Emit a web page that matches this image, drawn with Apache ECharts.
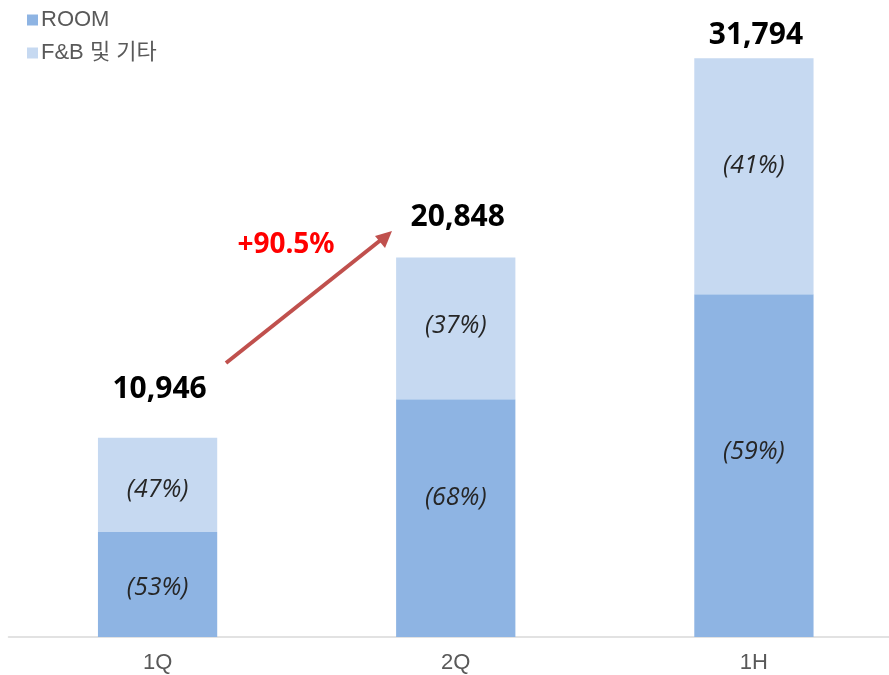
<!DOCTYPE html>
<html>
<head>
<meta charset="utf-8">
<script src="https://cdn.jsdelivr.net/npm/echarts@6/dist/echarts.min.js"></script>
<style>
  html, body { margin: 0; padding: 0; background: #fff; overflow: hidden; }
  /* the plot runs past the right edge in the source, so the canvas is a bit wider than the window */
  #chart { width: 903px; height: 675px; }
</style>
</head>
<body>
<div id="chart"></div>
<script>
var categories = ['1Q', '2Q', '1H']
var roomValues = [5770, 13070, 18830]
var fnbValues = [5176, 7778, 12964]
var totals = [10946, 20848, 31794]
var roomPct = ['(53%)', '(68%)', '(59%)']
var fnbPct = ['(47%)', '(37%)', '(41%)']
var growthLabel = '+90.5%'

// label nudges, the source chart did not center every label
var roomOffsets = [[0, 3], [0, -20], [0, -14]]
var fnbOffsets = [[0, 5], [0, -2], [0, -10]]
var totalDist = [33, 25, 8]

var chart = echarts.init(document.getElementById('chart'))

var pctLabel = {
  show: true,
  position: 'inside',
  fontFamily: 'Open Sans',
  fontStyle: 'italic',
  fontSize: 25,
  color: '#262626'
}

chart.setOption({
  animation: false,
  legend: {
    orient: 'vertical',
    left: 22,
    top: 4,
    itemGap: 11,
    itemWidth: 11,
    itemHeight: 11,
    icon: 'rect',
    textStyle: {
      fontFamily: 'Liberation Sans, Noto Sans CJK KR',
      fontSize: 22,
      color: '#595959',
      padding: [0, 0, 0, -2]
    },
    data: ['ROOM', 'F&B 및 기타']
  },
  grid: {
    left: 8.5,
    right: 0,
    top: 0,
    bottom: 38
  },
  xAxis: {
    type: 'category',
    data: categories,
    axisLine: { lineStyle: { color: '#d9d9d9', width: 1.5 } },
    axisTick: { show: false },
    axisLabel: {
      fontFamily: 'Liberation Sans',
      fontSize: 22,
      color: '#595959',
      margin: 15
    }
  },
  yAxis: {
    type: 'value',
    min: 0,
    max: 35000,
    show: false,
    splitLine: { show: false }
  },
  series: [
    {
      name: 'ROOM',
      type: 'bar',
      stack: 'total',
      barWidth: '40%',
      itemStyle: { color: '#8eb4e3' },
      data: roomValues.map(function (v, i) {
        return { value: v, label: Object.assign({}, pctLabel, { offset: roomOffsets[i] }) }
      }),
      label: Object.assign({}, pctLabel, {
        formatter: function (p) { return roomPct[p.dataIndex] }
      })
    },
    {
      name: 'F&B 및 기타',
      type: 'bar',
      stack: 'total',
      itemStyle: { color: '#c6d9f1' },
      data: fnbValues.map(function (v, i) {
        return { value: v, label: Object.assign({}, pctLabel, { offset: fnbOffsets[i] }) }
      }),
      label: Object.assign({}, pctLabel, {
        formatter: function (p) { return fnbPct[p.dataIndex] }
      })
    },
    {
      // transparent carrier for the total labels
      name: 'total',
      type: 'bar',
      stack: 'total',
      itemStyle: { color: 'transparent' },
      silent: true,
      data: totals.map(function (v, i) {
        return { value: 0, label: { distance: totalDist[i] } }
      }),
      label: {
        show: true,
        position: 'top',
        fontFamily: 'Noto Sans',
        fontWeight: 'bold',
        fontSize: 30,
        color: '#000',
        offset: [2, 0],
        formatter: function (p) { return totals[p.dataIndex].toLocaleString('en-US') }
      }
    }
  ],
  graphic: [
    {
      type: 'line',
      shape: { x1: 226, y1: 363, x2: 382, y2: 239 },
      style: { stroke: '#c0504d', lineWidth: 4 }
    },
    {
      type: 'polygon',
      shape: { points: [[392, 231], [375, 236], [385, 248]] },
      style: { fill: '#c0504d' }
    },
    {
      type: 'text',
      x: 286,
      y: 245,
      style: {
        text: growthLabel,
        font: 'bold 28px "Noto Sans"',
        fill: '#ff0000',
        align: 'center',
        verticalAlign: 'middle'
      }
    }
  ]
})
</script>
</body>
</html>
